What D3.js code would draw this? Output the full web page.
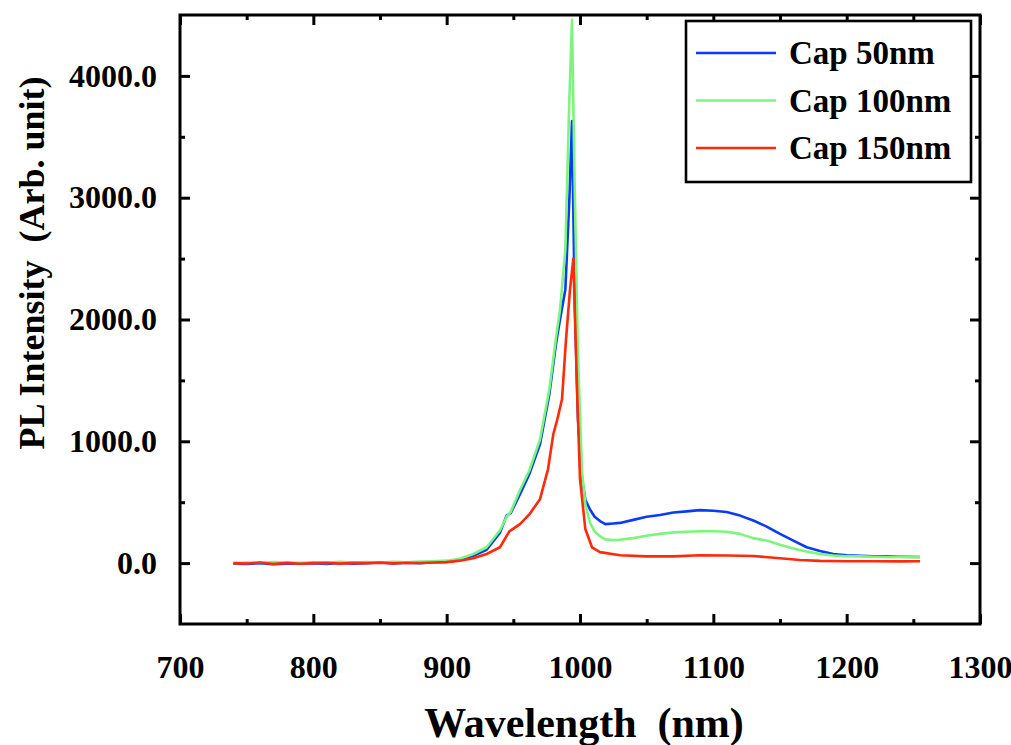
<!DOCTYPE html>
<html>
<head>
<meta charset="utf-8">
<script src="https://cdn.jsdelivr.net/npm/d3@7"></script>
<style>
  body { margin: 0; background: #fff; }
  svg text { font-family: "Liberation Serif", "Times New Roman", serif; font-weight: bold; fill: #000; }
</style>
</head>
<body>
<svg id="chart" width="1011" height="745"></svg>
<script>
// PL spectra for three cap-layer thicknesses
const seriesNames = ["Cap 50nm", "Cap 100nm", "Cap 150nm"];
const seriesColors = ["#0a3cf5", "#7cf57c", "#ff2a0a"];

const wlCap50 = [740,750,760,770,780,790,800,810,820,830,840,850,860,870,880,890,900,910,920,930,940,945,948,955,962,970,977,982,985,989,992,994,996,998.5,1001.5,1004,1007.5,1011,1015,1019,1025,1030,1040,1050,1060,1070,1080,1090,1100,1110,1120,1130,1140,1150,1160,1170,1180,1190,1200,1210,1220,1230,1240,1255];
const pl50 = [-5,-8,0,-10,-5,-3,0,-6,2,-4,0,5,-2,3,0,8,10,25,60,110,250,390,410,565,730,975,1385,1800,2000,2245,2980,3630,2160,1180,690,520,440,380,345,320,325,330,355,380,395,415,425,435,430,420,390,350,300,240,185,130,100,75,65,60,55,55,52,50];

const wlCap100 = [740,750,760,770,780,790,800,810,820,830,840,850,860,870,880,890,900,910,920,930,940,945,948,955,962,970,977,982,985,989,992,994,996,998.5,1001.5,1004,1007.5,1011,1015,1019,1025,1030,1040,1050,1060,1070,1080,1090,1100,1110,1120,1130,1140,1150,1160,1170,1180,1190,1200,1210,1220,1230,1240,1255];
const pl100 = [0,5,2,8,5,3,6,2,10,5,8,4,10,6,12,15,20,35,75,130,270,380,420,600,760,1015,1425,1850,2080,2575,3800,4460,3100,1700,750,480,330,260,220,195,190,192,205,225,240,252,258,262,262,258,240,205,185,150,120,95,75,62,56,55,52,50,50,48];

const wlCap150 = [740,750,760,770,780,790,800,810,820,830,840,850,860,870,880,890,900,910,920,930,940,947,955,962,970,976,980,983,986.5,989.5,992.5,995,998,1000,1004,1009,1015,1030,1050,1070,1090,1110,1130,1150,1165,1180,1200,1220,1240,1255];
const pl150 = [0,-3,5,-8,2,-5,0,3,-4,2,0,4,-2,3,1,5,8,20,40,75,130,260,320,400,525,770,1060,1180,1345,1835,2245,2500,1345,690,280,130,90,65,55,55,65,62,58,40,25,18,15,15,14,15];

const xMajorTicks = [700, 800, 900, 1000, 1100, 1200, 1300];
const xMinorTicks = [750, 850, 950, 1050, 1150, 1250];
const yMajorTicks = [0, 1000, 2000, 3000, 4000];
const yMinorTicks = [500, 1500, 2500, 3500];

const series = [
  { name: seriesNames[0], color: seriesColors[0], wl: wlCap50, v: pl50 },
  { name: seriesNames[1], color: seriesColors[1], wl: wlCap100, v: pl100 },
  { name: seriesNames[2], color: seriesColors[2], wl: wlCap150, v: pl150 }
];

const svg = d3.select("#chart");
const plotLeft = 180, plotRight = 980, plotTop = 15, plotBottom = 624;

const x = d3.scaleLinear().domain([700, 1300]).range([plotLeft, plotRight]);
const y = d3.scaleLinear().domain([-500, 4500]).range([plotBottom, plotTop]);

// curves
const line = d3.line().x(d => x(d[0])).y(d => y(d[1]));
const plot = svg.append("g");
series.forEach(s => {
  plot.append("path")
    .datum(s.wl.map((w, i) => [w, s.v[i]]))
    .attr("fill", "none")
    .attr("stroke", s.color)
    .attr("stroke-width", 2.6)
    .attr("stroke-linejoin", "round")
    .attr("d", line);
});

// axes with inward ticks on all four sides
function styleAxis(g) {
  g.select(".domain").remove();
  g.selectAll(".tick line").attr("stroke", "#000").attr("stroke-width", 3);
}

svg.append("g").attr("transform", `translate(0,${plotBottom})`)
  .call(d3.axisBottom(x).tickValues(xMajorTicks).tickSize(-10).tickPadding(31).tickFormat(d3.format("d")))
  .call(styleAxis)
  .call(g => g.selectAll("text").attr("font-size", 32));
svg.append("g").attr("transform", `translate(0,${plotBottom})`)
  .call(d3.axisBottom(x).tickValues(xMinorTicks).tickSize(-5).tickFormat(""))
  .call(styleAxis);
svg.append("g").attr("transform", `translate(0,${plotTop})`)
  .call(d3.axisTop(x).tickValues(xMajorTicks).tickSize(-10).tickFormat(""))
  .call(styleAxis);
svg.append("g").attr("transform", `translate(0,${plotTop})`)
  .call(d3.axisTop(x).tickValues(xMinorTicks).tickSize(-5).tickFormat(""))
  .call(styleAxis);

svg.append("g").attr("transform", `translate(${plotLeft},0)`)
  .call(d3.axisLeft(y).tickValues(yMajorTicks).tickSize(-10).tickPadding(23).tickFormat(d3.format(".1f")))
  .call(styleAxis)
  .call(g => g.selectAll("text").attr("font-size", 32));
svg.append("g").attr("transform", `translate(${plotLeft},0)`)
  .call(d3.axisLeft(y).tickValues(yMinorTicks).tickSize(-5).tickFormat(""))
  .call(styleAxis);
svg.append("g").attr("transform", `translate(${plotRight},0)`)
  .call(d3.axisRight(y).tickValues(yMajorTicks).tickSize(-10).tickFormat(""))
  .call(styleAxis);
svg.append("g").attr("transform", `translate(${plotRight},0)`)
  .call(d3.axisRight(y).tickValues(yMinorTicks).tickSize(-5).tickFormat(""))
  .call(styleAxis);

// frame
svg.append("rect")
  .attr("x", plotLeft).attr("y", plotTop)
  .attr("width", plotRight - plotLeft).attr("height", plotBottom - plotTop)
  .attr("fill", "none").attr("stroke", "#000").attr("stroke-width", 3);

// axis titles
svg.append("text")
  .attr("x", 584).attr("y", 737)
  .attr("text-anchor", "middle")
  .attr("font-size", 42)
  .style("white-space", "pre")
  .text("Wavelength  (nm)");

svg.append("text")
  .attr("transform", "translate(44,263) rotate(-90)")
  .attr("text-anchor", "middle")
  .attr("font-size", 36)
  .style("white-space", "pre")
  .text("PL Intensity  (Arb. unit)");

// legend
const legend = svg.append("g");
legend.append("rect")
  .attr("x", 686).attr("y", 21).attr("width", 285).attr("height", 161)
  .attr("fill", "#fff").attr("stroke", "#000").attr("stroke-width", 2.6);
series.forEach((s, i) => {
  const ly = 53 + i * 47.5;
  legend.append("line")
    .attr("x1", 696).attr("x2", 776).attr("y1", ly).attr("y2", ly)
    .attr("stroke", s.color).attr("stroke-width", 2.6);
  legend.append("text")
    .attr("x", 789).attr("y", ly + 11)
    .attr("font-size", 33)
    .text(s.name);
});
</script>
</body>
</html>
